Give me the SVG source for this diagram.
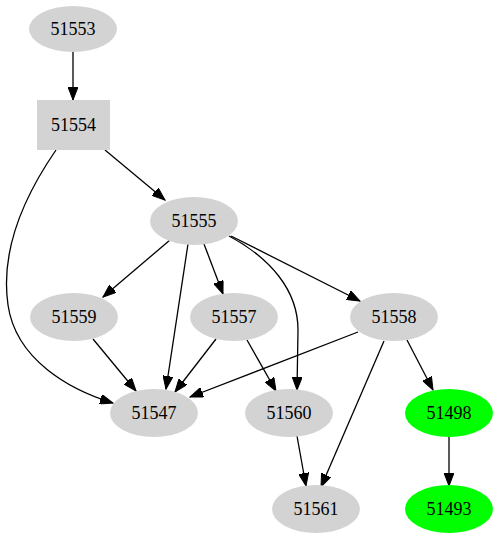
<svg xmlns="http://www.w3.org/2000/svg" width="497" height="539" viewBox="0 0 497 539">
<style>
.n{fill:#d3d3d3;stroke:none}
.g{fill:#00ff00;stroke:none}
text{font-family:"Liberation Serif","Times New Roman",serif;font-size:18px;text-anchor:middle;dominant-baseline:central;fill:#000}
.e{fill:none;stroke:#000;stroke-width:1.3;marker-end:url(#a)}
</style>
<defs>
<marker id="a" markerUnits="userSpaceOnUse" markerWidth="14" markerHeight="10" refX="13" refY="5" orient="auto">
<path d="M0,0 L13,5 L0,10 z" fill="#000" stroke="#000" stroke-width="1"/>
</marker>
</defs>
<rect width="497" height="539" fill="#fff"/>
<g id="edges">
<path class="e" d="M73,51 L73,100"/>
<path class="e" d="M56,150 C25,195 0,250 8,305 C16,360 70,390 113,403"/>
<path class="e" d="M105,150 L165,200"/>
<path class="e" d="M170,240 L103,297"/>
<path class="e" d="M188,244 L166,389"/>
<path class="e" d="M204,244 L223,294"/>
<path class="e" d="M229,236 C270,258 298,290 298,330 L297,390"/>
<path class="e" d="M231,236 L360,301"/>
<path class="e" d="M93,339 L136,391"/>
<path class="e" d="M216,339 L175,392"/>
<path class="e" d="M247,340 L276,391"/>
<path class="e" d="M358,332 L190,397"/>
<path class="e" d="M384,341 L321,487"/>
<path class="e" d="M407,340 L433,390"/>
<path class="e" d="M297,436 L306,486"/>
<path class="e" d="M449,436 L449,486"/>
</g>
<g id="n51553"><ellipse class="n" cx="73" cy="29" rx="44" ry="23"/><text x="73" y="29">51553</text></g>
<g id="n51554"><rect class="n" x="37" y="100" width="73" height="50"/><text x="73.5" y="125">51554</text></g>
<g id="n51555"><ellipse class="n" cx="194" cy="221" rx="44" ry="24"/><text x="194" y="221">51555</text></g>
<g id="n51559"><ellipse class="n" cx="74" cy="317" rx="44" ry="24"/><text x="74" y="317">51559</text></g>
<g id="n51557"><ellipse class="n" cx="234" cy="317" rx="44" ry="24"/><text x="234" y="317">51557</text></g>
<g id="n51558"><ellipse class="n" cx="394" cy="317" rx="44" ry="24"/><text x="394" y="317">51558</text></g>
<g id="n51547"><ellipse class="n" cx="154" cy="413" rx="44" ry="24"/><text x="154" y="413">51547</text></g>
<g id="n51560"><ellipse class="n" cx="289" cy="413" rx="44" ry="24"/><text x="289" y="413">51560</text></g>
<g id="n51498"><ellipse class="g" cx="449" cy="413" rx="44" ry="24"/><text x="449" y="413">51498</text></g>
<g id="n51561"><ellipse class="n" cx="316" cy="509" rx="44" ry="24"/><text x="316" y="509">51561</text></g>
<g id="n51493"><ellipse class="g" cx="449" cy="509" rx="44" ry="24"/><text x="449" y="509">51493</text></g>
</svg>
